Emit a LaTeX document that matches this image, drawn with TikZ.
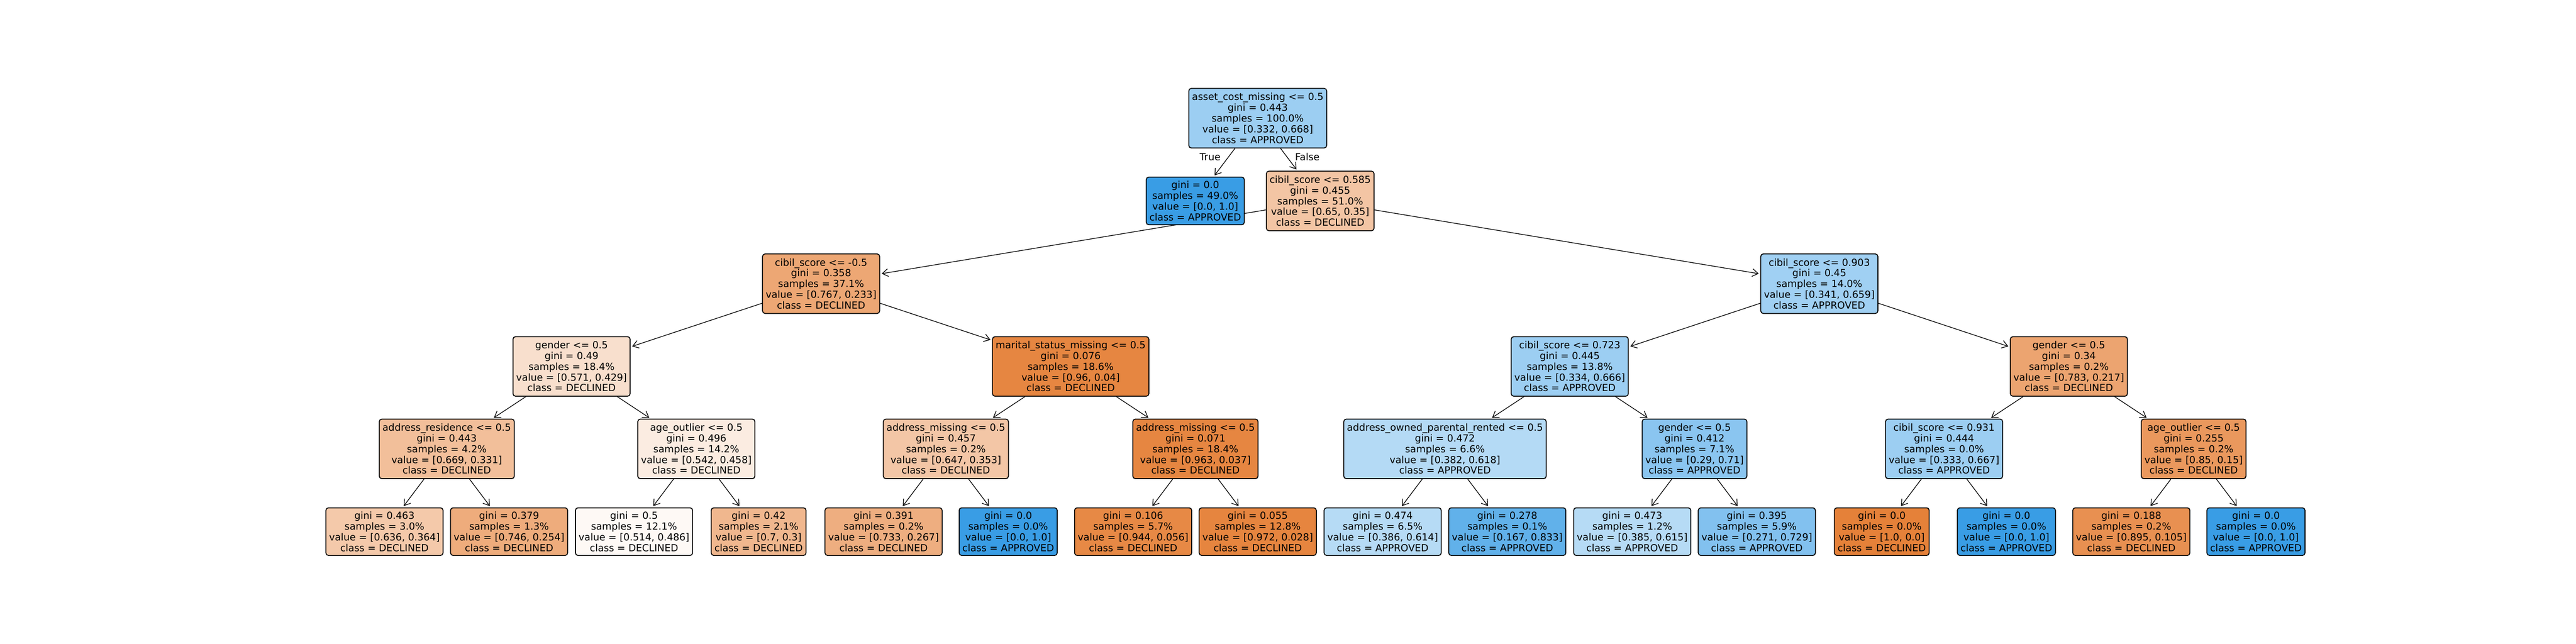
\documentclass[tikz,border=0pt]{standalone}
\usepackage{fontspec}
\setmainfont{DejaVu Sans}
\usetikzlibrary{arrows.meta,backgrounds}
\definecolor{decl}{RGB}{229,129,57}
\definecolor{appr}{RGB}{57,157,229}
\begin{document}
\begin{tikzpicture}[
	treebox/.style={draw=black, line width=0.8pt, rounded corners=0.08cm, inner sep=0.1cm, align=center, minimum height=1.85cm, font=\fontsize{8.62pt}{9.47pt}\selectfont},
	leafbox/.style={treebox, minimum height=1.48cm},
	edge/.style={line width=0.6pt, -{Straight Barb[length=0.18cm,width=0.24cm]}, shorten >=0.05cm}]
			\useasboundingbox (0,0) rectangle (80,-20);
			\node [treebox, fill=appr!50!white] (n0) at (39.06,-3.67) {asset\_cost\_missing <= 0.5\\gini = 0.443\\samples = 100.0\%\\value = [0.332, 0.668]\\class = APPROVED};
			\node [leafbox, fill=appr] (n1) at (37.12,-6.24) {gini = 0.0\\samples = 49.0\%\\value = [0.0, 1.0]\\class = APPROVED};
			\node [treebox, fill=decl!46!white] (n2) at (41.00,-6.24) {cibil\_score <= 0.585\\gini = 0.455\\samples = 51.0\%\\value = [0.65, 0.35]\\class = DECLINED};
			\node [font=\fontsize{8.62pt}{9.47pt}\selectfont] (tr) at (37.58,-4.87) {True};
			\node [font=\fontsize{8.62pt}{9.47pt}\selectfont] (fa) at (40.60,-4.87) {False};
			\node [treebox, fill=decl!70!white] (n3) at (25.50,-8.81) {cibil\_score <= -0.5\\gini = 0.358\\samples = 37.1\%\\value = [0.767, 0.233]\\class = DECLINED};
			\node [treebox, fill=appr!48!white] (n4) at (56.50,-8.81) {cibil\_score <= 0.903\\gini = 0.45\\samples = 14.0\%\\value = [0.341, 0.659]\\class = APPROVED};
			\node [treebox, fill=decl!25!white] (n5) at (17.75,-11.38) {gender <= 0.5\\gini = 0.49\\samples = 18.4\%\\value = [0.571, 0.429]\\class = DECLINED};
			\node [treebox, fill=decl!96!white] (n6) at (33.25,-11.38) {marital\_status\_missing <= 0.5\\gini = 0.076\\samples = 18.6\%\\value = [0.96, 0.04]\\class = DECLINED};
			\node [treebox, fill=appr!50!white] (n7) at (48.75,-11.38) {cibil\_score <= 0.723\\gini = 0.445\\samples = 13.8\%\\value = [0.334, 0.666]\\class = APPROVED};
			\node [treebox, fill=decl!72!white] (n8) at (64.25,-11.38) {gender <= 0.5\\gini = 0.34\\samples = 0.2\%\\value = [0.783, 0.217]\\class = DECLINED};
			\node [treebox, fill=decl!51!white] (n9) at (13.875,-13.94) {address\_residence <= 0.5\\gini = 0.443\\samples = 4.2\%\\value = [0.669, 0.331]\\class = DECLINED};
			\node [treebox, fill=decl!15!white] (n10) at (21.625,-13.94) {age\_outlier <= 0.5\\gini = 0.496\\samples = 14.2\%\\value = [0.542, 0.458]\\class = DECLINED};
			\node [treebox, fill=decl!45!white] (n11) at (29.375,-13.94) {address\_missing <= 0.5\\gini = 0.457\\samples = 0.2\%\\value = [0.647, 0.353]\\class = DECLINED};
			\node [treebox, fill=decl!96!white] (n12) at (37.125,-13.94) {address\_missing <= 0.5\\gini = 0.071\\samples = 18.4\%\\value = [0.963, 0.037]\\class = DECLINED};
			\node [treebox, fill=appr!38!white] (n13) at (44.875,-13.94) {address\_owned\_parental\_rented <= 0.5\\gini = 0.472\\samples = 6.6\%\\value = [0.382, 0.618]\\class = APPROVED};
			\node [treebox, fill=appr!59!white] (n14) at (52.625,-13.94) {gender <= 0.5\\gini = 0.412\\samples = 7.1\%\\value = [0.29, 0.71]\\class = APPROVED};
			\node [treebox, fill=appr!50!white] (n15) at (60.375,-13.94) {cibil\_score <= 0.931\\gini = 0.444\\samples = 0.0\%\\value = [0.333, 0.667]\\class = APPROVED};
			\node [treebox, fill=decl!82!white] (n16) at (68.125,-13.94) {age\_outlier <= 0.5\\gini = 0.255\\samples = 0.2\%\\value = [0.85, 0.15]\\class = DECLINED};
			\node [leafbox, fill=decl!43!white] (l1) at (11.94,-16.51) {gini = 0.463\\samples = 3.0\%\\value = [0.636, 0.364]\\class = DECLINED};
			\node [leafbox, fill=decl!66!white] (l2) at (15.81,-16.51) {gini = 0.379\\samples = 1.3\%\\value = [0.746, 0.254]\\class = DECLINED};
			\node [leafbox, fill=decl!5!white] (l3) at (19.69,-16.51) {gini = 0.5\\samples = 12.1\%\\value = [0.514, 0.486]\\class = DECLINED};
			\node [leafbox, fill=decl!57!white] (l4) at (23.56,-16.51) {gini = 0.42\\samples = 2.1\%\\value = [0.7, 0.3]\\class = DECLINED};
			\node [leafbox, fill=decl!64!white] (l5) at (27.44,-16.51) {gini = 0.391\\samples = 0.2\%\\value = [0.733, 0.267]\\class = DECLINED};
			\node [leafbox, fill=appr] (l6) at (31.31,-16.51) {gini = 0.0\\samples = 0.0\%\\value = [0.0, 1.0]\\class = APPROVED};
			\node [leafbox, fill=decl!94!white] (l7) at (35.19,-16.51) {gini = 0.106\\samples = 5.7\%\\value = [0.944, 0.056]\\class = DECLINED};
			\node [leafbox, fill=decl!97!white] (l8) at (39.06,-16.51) {gini = 0.055\\samples = 12.8\%\\value = [0.972, 0.028]\\class = DECLINED};
			\node [leafbox, fill=appr!37!white] (l9) at (42.94,-16.51) {gini = 0.474\\samples = 6.5\%\\value = [0.386, 0.614]\\class = APPROVED};
			\node [leafbox, fill=appr!80!white] (l10) at (46.81,-16.51) {gini = 0.278\\samples = 0.1\%\\value = [0.167, 0.833]\\class = APPROVED};
			\node [leafbox, fill=appr!37!white] (l11) at (50.69,-16.51) {gini = 0.473\\samples = 1.2\%\\value = [0.385, 0.615]\\class = APPROVED};
			\node [leafbox, fill=appr!63!white] (l12) at (54.56,-16.51) {gini = 0.395\\samples = 5.9\%\\value = [0.271, 0.729]\\class = APPROVED};
			\node [leafbox, fill=decl] (l13) at (58.44,-16.51) {gini = 0.0\\samples = 0.0\%\\value = [1.0, 0.0]\\class = DECLINED};
			\node [leafbox, fill=appr] (l14) at (62.31,-16.51) {gini = 0.0\\samples = 0.0\%\\value = [0.0, 1.0]\\class = APPROVED};
			\node [leafbox, fill=decl!88!white] (l15) at (66.19,-16.51) {gini = 0.188\\samples = 0.2\%\\value = [0.895, 0.105]\\class = DECLINED};
			\node [leafbox, fill=appr] (l16) at (70.06,-16.51) {gini = 0.0\\samples = 0.0\%\\value = [0.0, 1.0]\\class = APPROVED};
			\begin{scope}[on background layer]
			\draw [edge] (n0) -- (n1);
			\draw [edge] (n0) -- (n2);
			\draw [edge] (n2) -- (n3);
			\draw [edge] (n2) -- (n4);
			\draw [edge] (n3) -- (n5);
			\draw [edge] (n3) -- (n6);
			\draw [edge] (n4) -- (n7);
			\draw [edge] (n4) -- (n8);
			\draw [edge] (n5) -- (n9);
			\draw [edge] (n5) -- (n10);
			\draw [edge] (n6) -- (n11);
			\draw [edge] (n6) -- (n12);
			\draw [edge] (n7) -- (n13);
			\draw [edge] (n7) -- (n14);
			\draw [edge] (n8) -- (n15);
			\draw [edge] (n8) -- (n16);
			\draw [edge] (n9) -- (l1);
			\draw [edge] (n9) -- (l2);
			\draw [edge] (n10) -- (l3);
			\draw [edge] (n10) -- (l4);
			\draw [edge] (n11) -- (l5);
			\draw [edge] (n11) -- (l6);
			\draw [edge] (n12) -- (l7);
			\draw [edge] (n12) -- (l8);
			\draw [edge] (n13) -- (l9);
			\draw [edge] (n13) -- (l10);
			\draw [edge] (n14) -- (l11);
			\draw [edge] (n14) -- (l12);
			\draw [edge] (n15) -- (l13);
			\draw [edge] (n15) -- (l14);
			\draw [edge] (n16) -- (l15);
			\draw [edge] (n16) -- (l16);
			\end{scope}
		\end{tikzpicture}
\end{document}
